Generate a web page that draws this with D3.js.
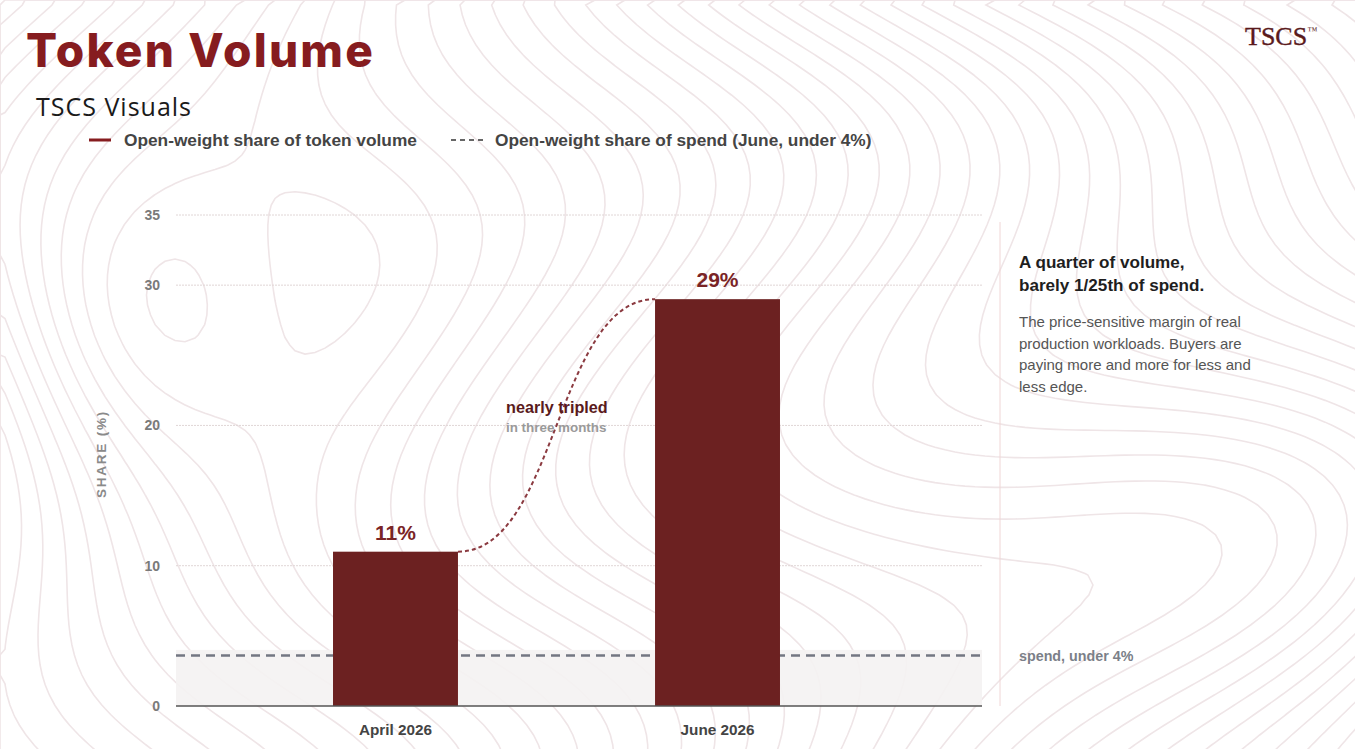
<!DOCTYPE html>
<html><head><meta charset="utf-8">
<script src="https://cdn.jsdelivr.net/npm/d3@7"></script>
<style>
html,body{margin:0;padding:0;background:#fff;}
svg{display:block;}
</style></head>
<body>
<svg id="chart" width="1355" height="749"></svg>
<script>
// ---- data ----
const categories = ["April 2026", "June 2026"];
const tokenShare = [11, 29];
const valueLabels = ["11%", "29%"];
const spendShare = 3.6;
const spendBandTop = 4;
const yTicks = [0, 10, 20, 30, 35];
const yDomain = [0, 35];
const legendLabels = ["Open-weight share of token volume", "Open-weight share of spend (June, under 4%)"];
const noteTitle = ["A quarter of volume,", "barely 1/25th of spend."];
const noteBody = ["The price-sensitive margin of real", "production workloads. Buyers are", "paying more and more for less and", "less edge."];

const W = 1355, H = 749;
const svg = d3.select("#chart");
const maroon = "#6c2121", titleRed = "#861c1f";
const SANS = "Liberation Sans, Arial, sans-serif";

// ---- decorative topographic background ----
(function(){
  const nx = 138, ny = 78, cell = 10;
  const vals = new Array(nx*ny);
  for (let j=0;j<ny;j++) for (let i=0;i<nx;i++){
    const x = i*cell, y = j*cell;
    let v = x/90;
    v += 0.9*Math.sin(y/85 + x/260) + 0.6*Math.sin(y/140 - x/500);
    v += 3.2*Math.exp(-((x-130)**2/(2*110**2) + (y-330)**2/(2*120**2)));
    v -= 3.5*Math.exp(-((x-1300)**2/(2*220**2) + (y-560)**2/(2*160**2)));
    v += 5.0*Math.exp(-((x-1150)**2/(2*380**2) + (y+120)**2/(2*170**2)));
    vals[j*nx+i] = v;
  }
  const ext = d3.extent(vals);
  const th = d3.range(ext[0], ext[1], 0.42);
  const contours = d3.contours().size([nx, ny]).thresholds(th)(vals);
  const path = d3.geoPath(d3.geoIdentity().scale(cell));
  svg.append("g").selectAll("path").data(contours).join("path")
    .attr("d", path).attr("fill","none")
    .attr("stroke","#efe5e7").attr("stroke-width",1.6);
})();

// ---- scales ----
const plotL = 176, plotR = 982;
const y = d3.scaleLinear().domain(yDomain).range([706, 215]);
const x = d3.scaleBand().domain(categories).range([plotL, 937]).paddingInner(0.612).paddingOuter(0.4876);

const g = svg.append("g");

// gridlines
g.append("g").selectAll("line").data(yTicks.filter(t=>t>0)).join("line")
  .attr("x1", plotL).attr("x2", plotR)
  .attr("y1", d=>y(d)).attr("y2", d=>y(d))
  .attr("stroke", "#e0d6d6").attr("stroke-width", 1).attr("stroke-dasharray","2 1");

// y tick labels via axis
const yAxis = g.append("g").attr("transform", `translate(${plotL},0)`)
  .call(d3.axisLeft(y).tickValues(yTicks).tickSize(0).tickPadding(16));
yAxis.select(".domain").remove();
yAxis.selectAll("text").attr("font-family",SANS)
  .attr("font-size",14).attr("font-weight","bold").attr("fill","#7a7a7a");

// y label
g.append("text").attr("transform", `translate(106,${454}) rotate(-90)`)
  .attr("text-anchor","middle").attr("font-family",SANS)
  .attr("font-size",13.5).attr("font-weight","bold").attr("fill","#8a8a8a").attr("letter-spacing",1.8)
  .text("SHARE (%)");

// spend band
g.append("rect").attr("x", plotL).attr("width", plotR-plotL)
  .attr("y", y(spendBandTop)).attr("height", y(0)-y(spendBandTop))
  .attr("fill", "#f4f2f2").attr("opacity", 0.9);

// spend dashed line
g.append("line").attr("x1", plotL).attr("x2", plotR)
  .attr("y1", y(spendShare)).attr("y2", y(spendShare))
  .attr("stroke","#737782").attr("stroke-width",2.5).attr("stroke-dasharray","9 6");

// bars
g.selectAll("rect.bar").data(categories).join("rect").attr("class","bar")
  .attr("x", d=>x(d)).attr("width", x.bandwidth())
  .attr("y", (d,i)=>y(tokenShare[i])).attr("height", (d,i)=>y(0)-y(tokenShare[i]))
  .attr("fill", maroon);

// baseline axis
g.append("line").attr("x1", plotL).attr("x2", plotR).attr("y1", y(0)).attr("y2", y(0))
  .attr("stroke","#555").attr("stroke-width",1.5);

// x labels
const xAxis = g.append("g").attr("transform", `translate(0,${y(0)})`)
  .call(d3.axisBottom(x).tickSize(0).tickPadding(18));
xAxis.select(".domain").remove();
xAxis.selectAll("text").attr("font-family",SANS)
  .attr("font-size",15.3).attr("font-weight","bold").attr("fill","#444");

// value labels
g.selectAll("text.val").data(categories).join("text").attr("class","val")
  .attr("x", d=>x(d)+x.bandwidth()/2).attr("y", (d,i)=>y(tokenShare[i])-12)
  .attr("text-anchor","middle").attr("font-family",SANS)
  .attr("font-size",21).attr("font-weight","bold").attr("fill","#7a2426")
  .text((d,i)=>valueLabels[i]);

// connector curve
const link = d3.linkHorizontal().x(d=>d[0]).y(d=>d[1]);
g.append("path").attr("d", link({
    source:[x(categories[0])+x.bandwidth(), y(tokenShare[0])],
    target:[x(categories[1]), y(tokenShare[1])]}))
  .attr("fill","none").attr("stroke","#8b3a40").attr("stroke-width",2).attr("stroke-dasharray","4 3");

// annotation
g.append("text").attr("x", 506).attr("y", 413).attr("font-family",SANS)
  .attr("font-size",16.2).attr("font-weight","bold").attr("fill","#5a1a1c").text("nearly tripled");
g.append("text").attr("x", 506).attr("y", 432).attr("font-family",SANS)
  .attr("font-size",13.4).attr("font-weight","bold").attr("fill","#9a9a9a").text("in three months");

// separator
g.append("line").attr("x1",1000).attr("x2",1000).attr("y1",222).attr("y2",y(0))
  .attr("stroke","#f0d6d6").attr("stroke-width",1);

// right notes
g.selectAll("text.nt").data(noteTitle).join("text").attr("class","nt")
  .attr("x",1019).attr("y",(d,i)=>268+i*23).attr("font-family",SANS)
  .attr("font-size",17.1).attr("font-weight","bold").attr("fill","#1e1e1e").text(d=>d);
g.selectAll("text.nb").data(noteBody).join("text").attr("class","nb")
  .attr("x",1019).attr("y",(d,i)=>327+i*21.5).attr("font-family",SANS)
  .attr("font-size",15).attr("fill","#555").text(d=>d);
g.append("text").attr("x",1019).attr("y",y(spendShare)+6).attr("font-family",SANS)
  .attr("font-size",14.3).attr("font-weight","bold").attr("fill","#7b7f88").text("spend, under 4%");

// title & subtitle
svg.append("text").attr("x",26).attr("y",67).attr("font-family","Inter, Liberation Sans, sans-serif")
  .attr("font-size",46).attr("font-weight",800).attr("letter-spacing",2.2).attr("fill",titleRed).text("Token Volume");
svg.append("text").attr("x",36).attr("y",116).attr("font-family","Open Sans, sans-serif")
  .attr("font-size",25).attr("letter-spacing",1).attr("fill","#1a1a1a").text("TSCS Visuals");

// logo
const logo = svg.append("text").attr("x",1245).attr("y",45).attr("font-family","Liberation Serif, serif")
  .attr("font-size",26).attr("fill","#5a1a1c").attr("stroke","#5a1a1c").attr("stroke-width",0.4);
logo.append("tspan").text("TSCS");
logo.append("tspan").attr("font-size",10).attr("dy",-11).attr("stroke-width",0).text("™");

// legend
svg.append("line").attr("x1",89).attr("x2",111).attr("y1",140).attr("y2",140)
  .attr("stroke",titleRed).attr("stroke-width",3);
svg.append("text").attr("x",124).attr("y",146).attr("font-family",SANS)
  .attr("font-size",17.3).attr("font-weight","bold").attr("fill","#444").text(legendLabels[0]);
svg.append("line").attr("x1",451).attr("x2",484).attr("y1",140).attr("y2",140)
  .attr("stroke","#666").attr("stroke-width",2).attr("stroke-dasharray","5 4");
svg.append("text").attr("x",495).attr("y",146).attr("font-family",SANS)
  .attr("font-size",17.3).attr("font-weight","bold").attr("fill","#444").text(legendLabels[1]);
</script>
</body></html>
